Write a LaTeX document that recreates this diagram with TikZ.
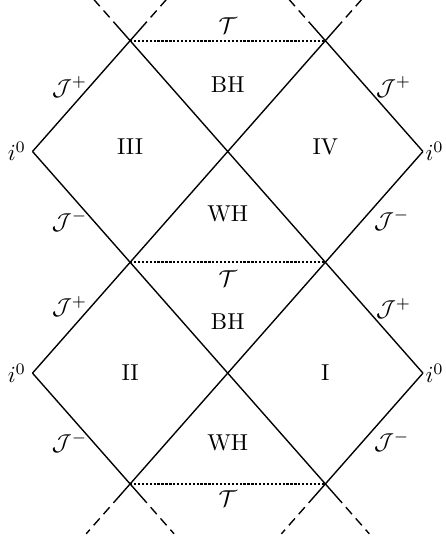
\documentclass[tikz,border=0pt]{standalone}
\begin{document}
\begin{tikzpicture}[x=42.46pt, y=-48.2pt, line width=0.6pt,
  singular/.style = {line width=1pt, dash pattern=on 1pt off 0.7pt},
  beyond/.style = {dash pattern=on 11pt off 2.5pt on 4pt off 2.5pt on 4pt off 2.5pt on 4pt off 2.5pt},
  region/.style = {inner sep=0pt}]
  \useasboundingbox (-0.333,-0.367) rectangle (4.226,4.497);
  % corners of the diamonds
  \coordinate (t1) at (1,0); \coordinate (t2) at (3,0);
  \coordinate (l1) at (0,1); \coordinate (c1) at (2,1); \coordinate (r1) at (4,1);
  \coordinate (m1) at (1,2); \coordinate (m2) at (3,2);
  \coordinate (l2) at (0,3); \coordinate (c2) at (2,3); \coordinate (r2) at (4,3);
  \coordinate (b1) at (1,4); \coordinate (b2) at (3,4);
  % free ends of the continued lines
  \coordinate (t1a) at (0.63,-0.37); \coordinate (t1b) at (1.37,-0.37);
  \coordinate (t2a) at (2.63,-0.37); \coordinate (t2b) at (3.37,-0.37);
  \coordinate (b1a) at (0.55,4.45); \coordinate (b1b) at (1.45,4.45);
  \coordinate (b2a) at (2.55,4.45); \coordinate (b2b) at (3.45,4.45);
  % null lines
  \draw (l1) -- (t1) -- (r2);
  \draw (r1) -- (t2) -- (l2);
  \draw (l1) -- (b2);
  \draw (r1) -- (b1);
  \draw (l2) -- (b1);
  \draw (r2) -- (b2);
  % singularities
  \draw[singular] (t1) -- (t2);
  \draw[singular] (m1) -- (m2);
  \draw[singular] (b1) -- (b2);
  % continuation
  \draw[beyond] (t1) -- (t1a);
  \draw[beyond] (t1) -- (t1b);
  \draw[beyond] (t2) -- (t2a);
  \draw[beyond] (t2) -- (t2b);
  \draw[beyond] (b1) -- (b1a);
  \draw[beyond] (b1) -- (b1b);
  \draw[beyond] (b2) -- (b2a);
  \draw[beyond] (b2) -- (b2b);
  % regions
  \node[region] (bh1) at (2,0.40) {BH};
  \node[region] (wh1) at (2,1.56) {WH};
  \node[region] (bh2) at (2,2.54) {BH};
  \node[region] (wh2) at (2,3.63) {WH};
  \node[region] (rIII) at (1,0.96) {III};
  \node[region] (rIV) at (3,0.96) {IV};
  \node[region] (rII) at (1,3.0) {II};
  \node[region] (rI) at (3,3.0) {I};
  % singularity labels
  \node (sing1) at (2,-0.14) {$\mathcal{T}$};
  \node (sing2) at (2,2.15) {$\mathcal{T}$};
  \node (sing3) at (2,4.13) {$\mathcal{T}$};
  % scri and spatial infinity
  \node (scri1) at (0.38,0.42) {$\mathcal{J}^+$};
  \node (scri2) at (0.38,1.63) {$\mathcal{J}^-$};
  \node (scri3) at (3.70,0.42) {$\mathcal{J}^+$};
  \node (scri4) at (3.68,1.62) {$\mathcal{J}^-$};
  \node (scri5) at (0.38,2.40) {$\mathcal{J}^+$};
  \node (scri6) at (0.38,3.63) {$\mathcal{J}^-$};
  \node (scri7) at (3.70,2.42) {$\mathcal{J}^+$};
  \node (scri8) at (3.68,3.62) {$\mathcal{J}^-$};
  \node (io1) at (-0.16,1) {$i^0$};
  \node (io2) at (-0.16,3) {$i^0$};
  \node (io3) at (4.12,1) {$i^0$};
  \node (io4) at (4.12,3) {$i^0$};
\end{tikzpicture}
\end{document}
